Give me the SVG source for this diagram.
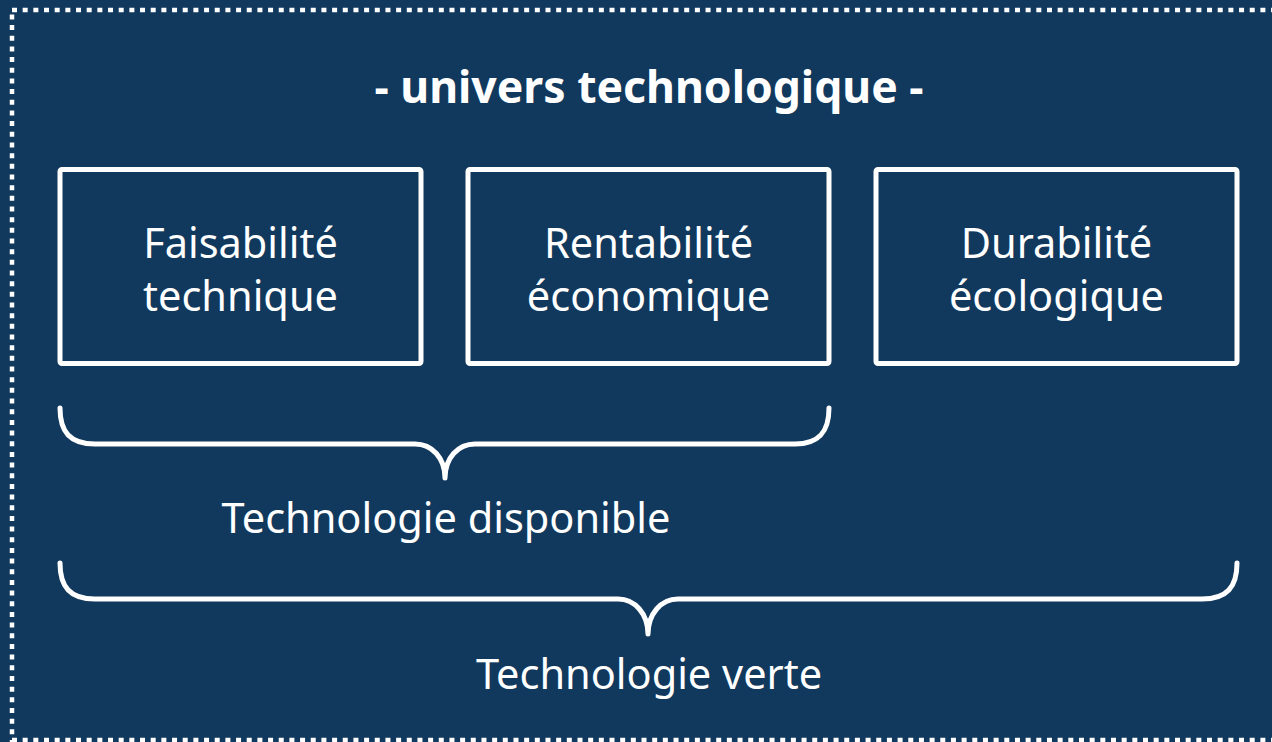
<svg xmlns="http://www.w3.org/2000/svg" width="1272" height="742" viewBox="0 0 1272 742">
<style>
.box{fill:none;stroke:#ffffff;stroke-width:5}
.brace{fill:none;stroke:#ffffff;stroke-width:5;stroke-linecap:round;stroke-linejoin:round}
.t{fill:#ffffff;font-family:"Noto Sans","Open Sans",sans-serif;font-size:41.5px;text-anchor:middle}
.title{fill:#ffffff;font-family:"Noto Sans","Open Sans",sans-serif;font-size:44.5px;font-weight:bold;text-anchor:middle}
</style>
<rect x="0" y="0" width="1272" height="742" fill="#11395d"/>
<rect x="12" y="10" width="1270" height="730" fill="none" stroke="#ffffff" stroke-width="4.5" stroke-dasharray="5 5.67"/>
<text class="title" x="649" y="103">- univers technologique -</text>
<g id="node-faisabilite">
<rect class="box" x="60" y="169.5" width="361" height="194" rx="2"/>
<text class="t" x="240.5" y="258">Faisabilité</text>
<text class="t" x="240.5" y="311">technique</text>
</g>
<g id="node-rentabilite">
<rect class="box" x="468" y="169.5" width="361" height="194" rx="2"/>
<text class="t" x="648.5" y="258">Rentabilité</text>
<text class="t" x="648.5" y="311">économique</text>
</g>
<g id="node-durabilite">
<rect class="box" x="876" y="169.5" width="361" height="194" rx="2"/>
<text class="t" x="1056.5" y="258">Durabilité</text>
<text class="t" x="1056.5" y="311">écologique</text>
</g>
<g id="connectors">
<path class="brace" d="M60,408 C60,432 70,444 95,444 L415,444 C432,444 445,458 445,478 C445,458 458,444 475,444 L795,444 C819,444 829,432 829,408"/>
<path class="brace" d="M60,563 C60,587 70,599 95,599 L618,599 C635,599 648,614 648,634 C648,614 661,599 678,599 L1202,599 C1227,599 1237,587 1237,563"/>
</g>
<g id="node-disponible">
<text class="t" x="446" y="533">Technologie disponible</text>
</g>
<g id="node-verte">
<text class="t" x="649" y="689">Technologie verte</text>
</g>
</svg>
